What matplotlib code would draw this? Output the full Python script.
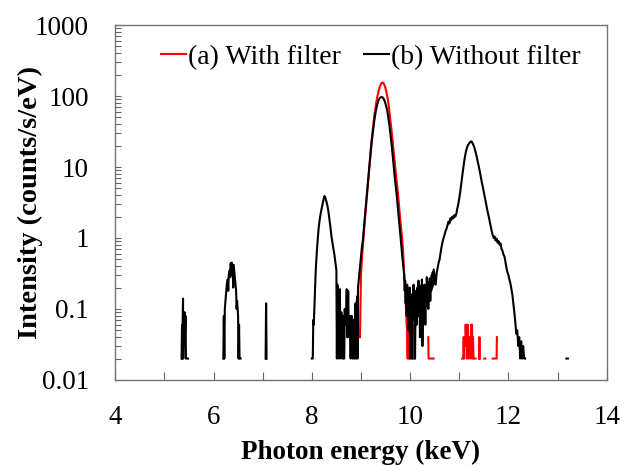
import numpy as np
import matplotlib.pyplot as plt
from matplotlib.ticker import FixedLocator, FixedFormatter, LogLocator, NullFormatter

plt.rcParams['font.family'] = ['Liberation Serif', 'DejaVu Serif']

nan = np.nan

# (b) without filter, split where the spectrum has no counts
bx_a = [5.35, 5.36, 5.365, 5.37, 5.38, 5.385, 5.39, 5.40, 5.41, 5.42, 5.43, 5.44, 5.46, 5.48]
by_a = [0.02, 0.06, 0.02, 0.05, 0.14, 0.02, 0.07, 0.03, 0.09, 0.04, 0.08, 0.02, 0.02, 0.02]

bx_b = [6.20, 6.21, 6.22, 6.23, 6.25, 6.27, 6.29, 6.30, 6.31, 6.33, 6.34, 6.35, 6.36, 6.37,
        6.38, 6.39, 6.40, 6.41, 6.43, 6.44, 6.46, 6.47, 6.48, 6.50, 6.51, 6.52, 6.53, 6.55]
by_b = [0.02, 0.08, 0.02, 0.10, 0.15, 0.22, 0.26, 0.18, 0.30, 0.35, 0.28, 0.44, 0.33, 0.45,
        0.30, 0.40, 0.20, 0.42, 0.30, 0.25, 0.18, 0.10, 0.13, 0.08, 0.02, 0.06, 0.02, 0.02]

bx_c = [7.06, 7.07, 7.08]
by_c = [0.02, 0.12, 0.02]

bx_d = [8.00, 8.02, 8.03, 8.04, 8.06, 8.08, 8.10, 8.12, 8.14, 8.16, 8.18, 8.20, 8.22, 8.24,
        8.26, 8.28, 8.30, 8.32, 8.34, 8.36, 8.38, 8.40, 8.42, 8.44, 8.46, 8.48, 8.50, 8.51,
        8.52, 8.54, 8.55, 8.56, 8.57, 8.58, 8.59, 8.60, 8.62, 8.63, 8.64, 8.65, 8.66, 8.67,
        8.68, 8.70, 8.71, 8.72, 8.73, 8.74, 8.75, 8.76, 8.77, 8.78, 8.79, 8.80, 8.81, 8.82,
        8.83, 8.85, 8.86, 8.87, 8.88, 8.89, 8.90, 8.91, 8.92, 8.93, 8.94, 8.96, 8.98, 9.00,
        9.02, 9.04, 9.06, 9.08, 9.10, 9.12, 9.14, 9.16, 9.18, 9.20, 9.22, 9.24, 9.26, 9.28,
        9.30, 9.32, 9.34, 9.36, 9.38, 9.40, 9.42, 9.44, 9.46, 9.48, 9.50, 9.52, 9.54, 9.56,
        9.58, 9.60, 9.62, 9.64, 9.66, 9.68, 9.70, 9.72, 9.74, 9.76, 9.78, 9.80, 9.82, 9.84,
        9.86, 9.88, 9.89, 9.90, 9.91, 9.92, 9.93, 9.94, 9.95, 9.96, 9.97, 9.98, 9.99, 10.00,
        10.01, 10.02, 10.03, 10.04, 10.05, 10.06, 10.07, 10.08, 10.09, 10.10, 10.11, 10.12,
        10.13, 10.14, 10.15, 10.16, 10.17, 10.18, 10.19, 10.20, 10.21, 10.22, 10.23, 10.24,
        10.25, 10.26, 10.27, 10.28, 10.29, 10.30, 10.31, 10.32, 10.33, 10.34, 10.35, 10.36,
        10.37, 10.38, 10.39, 10.40, 10.41, 10.42, 10.43, 10.44, 10.45, 10.46, 10.47, 10.48,
        10.50, 10.52, 10.54, 10.56, 10.58, 10.60, 10.62, 10.64, 10.66, 10.68, 10.70, 10.72,
        10.74, 10.76, 10.78, 10.80, 10.82, 10.84, 10.86, 10.88, 10.90, 10.92, 10.94, 10.96,
        10.98, 11.00, 11.02, 11.04, 11.06, 11.08, 11.10, 11.12, 11.14, 11.16, 11.18, 11.20,
        11.22, 11.24, 11.26, 11.28, 11.30, 11.32, 11.34, 11.36, 11.38, 11.40, 11.42, 11.44,
        11.46, 11.48, 11.50, 11.52, 11.54, 11.56, 11.58, 11.60, 11.62, 11.64, 11.66, 11.68,
        11.70, 11.72, 11.74, 11.76, 11.78, 11.80, 11.82, 11.84, 11.86, 11.88, 11.90, 11.92,
        11.94, 11.96, 11.98, 12.00, 12.02, 12.04, 12.06, 12.08, 12.10, 12.12, 12.14, 12.16,
        12.18, 12.20, 12.22, 12.24, 12.26, 12.28, 12.30, 12.32, 12.34]
by_d = [0.02, 0.02, 0.07, 0.06, 0.15, 0.35, 0.60, 0.95, 1.4, 1.8, 2.2, 2.6, 3.0, 3.5,
        3.9, 3.6, 3.2, 2.8, 2.3, 1.8, 1.4, 1.05, 0.85, 0.70, 0.58, 0.45, 0.35, 0.02,
        0.22, 0.15, 0.02, 0.08, 0.19, 0.05, 0.02, 0.09, 0.04, 0.02, 0.08, 0.02, 0.02, 0.10,
        0.06, 0.08, 0.19, 0.04, 0.06, 0.18, 0.06, 0.04, 0.08, 0.05, 0.02, 0.06, 0.08, 0.05,
        0.02, 0.07, 0.02, 0.02, 0.08, 0.12, 0.02, 0.10, 0.15, 0.02, 0.20, 0.28, 0.39, 0.55,
        0.75, 0.95, 1.4, 2.0, 2.9, 4.2, 6.0, 8.5, 12, 17, 23, 30, 40, 50,
        60, 70, 80, 88, 93, 96, 97, 96, 92, 86, 78, 69, 60, 48,
        38, 29, 22, 16, 11.5, 8.0, 6.0, 4.5, 3.2, 2.3, 1.6, 1.15, 0.80, 0.55,
        0.40, 0.30, 0.18, 0.25, 0.12, 0.20, 0.08, 0.22, 0.10, 0.16, 0.05, 0.14, 0.20, 0.02,
        0.10, 0.06, 0.16, 0.02, 0.12, 0.07, 0.22, 0.09, 0.15, 0.02, 0.10, 0.18,
        0.06, 0.12, 0.20, 0.08, 0.25, 0.10, 0.17, 0.04, 0.13, 0.21, 0.08, 0.26,
        0.03, 0.12, 0.19, 0.09, 0.22, 0.14, 0.06, 0.20, 0.11, 0.28, 0.15, 0.21,
        0.10, 0.24, 0.16, 0.27, 0.13, 0.22, 0.18, 0.30, 0.20, 0.33, 0.22, 0.36,
        0.28, 0.22, 0.32, 0.38, 0.45, 0.50, 0.62, 0.75, 0.88, 1.0, 1.1, 1.25,
        1.35, 1.5, 1.7, 1.6, 1.9, 1.8, 2.0, 1.9, 2.1, 2.0, 2.2, 2.6,
        3.0, 3.6, 4.5, 5.8, 7.5, 9.5, 12, 14.5, 17, 19, 20.5, 21.5,
        22.5, 23, 22.5, 21, 19.5, 17.5, 15.5, 13.5, 11.5, 10, 8.5, 7.2,
        6.0, 5.2, 4.4, 3.7, 3.1, 2.7, 2.3, 2.0, 1.7, 1.45, 1.25, 1.1,
        1.0, 1.05, 0.92, 0.98, 0.86, 0.90, 0.80, 0.84, 0.70, 0.66, 0.58, 0.55,
        0.46, 0.38, 0.33, 0.30, 0.26, 0.23, 0.19, 0.16, 0.12, 0.09, 0.065, 0.045,
        0.05, 0.03, 0.04, 0.02, 0.035, 0.02, 0.03, 0.02, 0.02]

bx_e = [13.18, 13.21]
by_e = [0.02, 0.02]

# (a) with filter
rx_a = [8.98, 9.00, 9.02, 9.04, 9.06, 9.08, 9.10, 9.12, 9.14, 9.16, 9.18, 9.20, 9.22, 9.24,
        9.26, 9.28, 9.30, 9.32, 9.34, 9.36, 9.38, 9.40, 9.42, 9.44, 9.46, 9.48, 9.50, 9.52,
        9.54, 9.56, 9.58, 9.60, 9.62, 9.64, 9.66, 9.68, 9.70, 9.72, 9.74, 9.76, 9.78, 9.80,
        9.82, 9.84, 9.86, 9.88, 9.90, 9.92, 9.93, 9.94, 9.95, 9.96, 9.97, 9.98, 9.99, 10.00,
        10.01, 10.02, 10.03, 10.04, 10.05, 10.06, 10.07, 10.08, 10.09]
ry_a = [0.04, 0.3, 0.5, 0.8, 1.2, 1.8, 2.6, 3.8, 5.5, 8, 12, 18, 25, 34,
        45, 58, 72, 88, 103, 118, 132, 145, 153, 155, 151, 142, 128, 112,
        96, 78, 60, 45, 34, 25, 18, 13, 9.5, 7, 5.2, 3.7, 2.6, 1.8,
        1.3, 0.95, 0.6, 0.3, 0.17, 0.09, 0.06, 0.05, 0.02, 0.08, 0.02, 0.06, 0.09, 0.02,
        0.07, 0.04, 0.08, 0.02, 0.06, 0.02, 0.04, 0.02, 0.02]

rx_b = [10.37, 10.375, 10.48]
ry_b = [0.04, 0.02, 0.02]

rx_c = [11.06, 11.08, 11.09, 11.10, 11.11, 11.12, 11.13, 11.14, 11.15, 11.16, 11.17, 11.18,
        11.19, 11.20, 11.21, 11.22, 11.23, 11.24, 11.25, 11.26, 11.27, 11.28, 11.29, 11.31, 11.33]
ry_c = [0.02, 0.02, 0.04, 0.02, 0.04, 0.03, 0.06, 0.04, 0.06, 0.02, 0.06, 0.04,
        0.02, 0.04, 0.03, 0.04, 0.02, 0.06, 0.04, 0.06, 0.02, 0.04, 0.02, 0.02, 0.02]

rx_d = [11.40, 11.41, 11.42]
ry_d = [0.02, 0.04, 0.02]

rx_e = [11.51, 11.53]
ry_e = [0.02, 0.02]

rx_f = [11.68, 11.76, 11.765]
ry_f = [0.02, 0.02, 0.04]


def join(*segs):
    out = []
    for s in segs:
        out += list(s) + [nan]
    return np.array(out)


black_x = join(bx_a, bx_b, bx_c, bx_d, bx_e)
black_y = join(by_a, by_b, by_c, by_d, by_e)
red_x = join(rx_a, rx_b, rx_c, rx_d, rx_e, rx_f)
red_y = join(ry_a, ry_b, ry_c, ry_d, ry_e, ry_f)

fig = plt.figure(figsize=(6.4, 4.65), dpi=100)
ax = fig.add_axes([0.18, 0.183, 0.768, 0.763])

lr, = ax.plot(red_x, red_y, color='#ff0000', lw=1.5)
lb, = ax.plot(black_x, black_y, color='black', lw=1.5)

ax.set_yscale('log')
ax.set_xlim(4, 14)
ax.set_ylim(0.01, 1000)

ax.xaxis.set_major_locator(FixedLocator([4, 6, 8, 10, 12, 14]))
ax.xaxis.set_minor_locator(FixedLocator([5, 7, 9, 11, 13]))
ax.yaxis.set_major_locator(FixedLocator([0.01, 0.1, 1, 10, 100, 1000]))
ax.yaxis.set_major_formatter(FixedFormatter(['0.01', '0.1', '1', '10', '100', '1000']))
ax.yaxis.set_minor_locator(LogLocator(base=10, subs=np.arange(2, 10)))
ax.yaxis.set_minor_formatter(NullFormatter())

ax.tick_params(axis='x', which='both', direction='in', length=6, width=0.8,
               color='0.4', labelsize=19.5, pad=18, top=False)
ax.tick_params(axis='y', which='both', direction='in', length=4, width=0.8,
               color='0.4', labelsize=19.5, pad=19, right=False)

for sp in ax.spines.values():
    sp.set_color('0.45')
    sp.set_linewidth(1.0)

ax.set_xlabel('Photon energy (keV)', fontsize=19.5, fontweight='bold', labelpad=7)
ax.set_ylabel('Intensity (counts/s/eV)', fontsize=20.5, fontweight='bold', labelpad=-6)

ax.legend([lr, lb], ['(a) With filter', '(b) Without filter'], loc='upper center',
          bbox_to_anchor=(0.52, 1.0), ncol=2, frameon=False, fontsize=20,
          handlelength=0.9, handletextpad=0.1, columnspacing=0.8, borderaxespad=0.3)

fig.savefig('out.png', dpi=100)
